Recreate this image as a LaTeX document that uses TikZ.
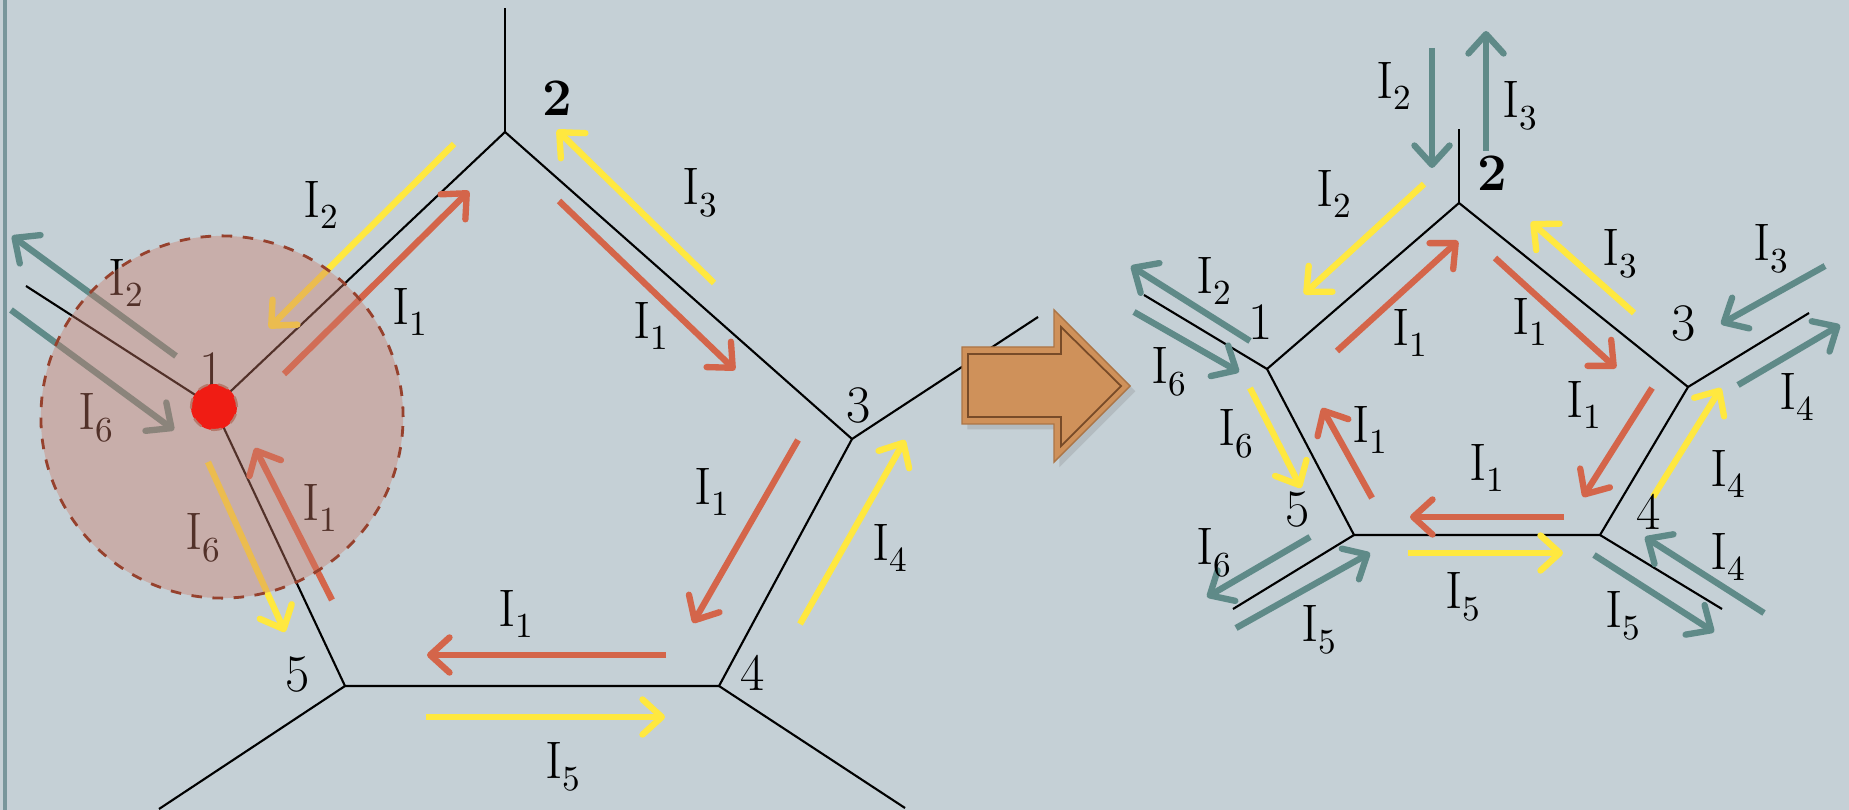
\documentclass[tikz,border=0pt]{standalone}
\usepackage{tikz}
\usetikzlibrary{arrows.meta, calc, shadows}

\definecolor{panelbg}{RGB}{197,208,214}
\definecolor{panelrule}{RGB}{120,150,155}
\definecolor{curred}{RGB}{212,101,74}
\definecolor{curyellow}{RGB}{255,232,63}
\definecolor{curteal}{RGB}{95,138,136}
\definecolor{zonefill}{RGB}{205,123,104}
\definecolor{zonedraw}{RGB}{150,65,45}
\definecolor{dotred}{RGB}{240,28,20}
\definecolor{arrowfill}{RGB}{207,145,90}
\definecolor{arrowdraw}{RGB}{120,75,40}
\newcommand{\curlbl}[1]{I\raisebox{-0.5ex}{\fontsize{10}{11}\selectfont #1}}

\begin{document}
\begin{tikzpicture}[
  x=0.01cm, y=-0.01cm,
  wire/.style={line width=0.6pt, black},
  current/.style={line width=1.8pt, -{Straight Barb[round, length=5.5pt, width=10pt]}},
  redcur/.style={current, curred},
  yelcur/.style={current, curyellow},
  tealcur/.style={current, curteal},
  lbl/.style={inner sep=0pt, font=\fontsize{15}{17}\selectfont},
  vnum/.style={inner sep=0pt, font=\fontsize{15}{17}\selectfont},
]

  % background
  \fill[panelbg] (0,0) rectangle (1849,810);
  \useasboundingbox (0,0) rectangle (1849,810);
  \draw[panelrule, line width=1pt] (5,0) -- (5,810);

  % ---------- left network ----------
  \coordinate (v1) at (214,407);
  \coordinate (v2) at (505,132);
  \coordinate (v3) at (852,439);
  \coordinate (v4) at (719,686);
  \coordinate (v5) at (345,686);
  \coordinate (s1) at (26,286);
  \coordinate (s2) at (505,8);
  \coordinate (s3) at (1038,317);
  \coordinate (s4) at (905,808);
  \coordinate (s5) at (159,809);

  \draw[wire] (v1) -- (v2) -- (v3) -- (v4) -- (v5) -- cycle;
  \foreach \i in {1,...,5} {
    \draw[wire] (v\i) -- (s\i);
  }

  % currents on the left
  \draw[redcur] (284,374) -- (469,191);
  \draw[redcur] (559,201) -- (735,370);
  \draw[redcur] (798,440) -- (693,623);
  \draw[redcur] (666,655) -- (427,655);
  \draw[redcur] (332,600) -- (255,448);
  \draw[yelcur] (454,144) -- (269,328);
  \draw[yelcur] (714,283) -- (557,130);
  \draw[yelcur] (800,624) -- (905,440);
  \draw[yelcur] (426,717) -- (665,717);
  \draw[yelcur] (208,462) -- (285,632);
  \draw[tealcur] (176,356) -- (12,236);
  \draw[tealcur] (11,310) -- (174,430);

  % labels on the left
  \node (n2) [vnum, font=\fontsize{15}{17}\selectfont\bfseries] at (557,98) {2};
  \node (n1) [vnum] at (212,370) {1};
  \node (n3) [vnum] at (859,405) {3};
  \node (n4) [vnum] at (753,673) {4};
  \node (n5) [vnum] at (298,675) {5};
  \node (la) [lbl] at (321,205) {\curlbl{2}};
  \node (lb) [lbl] at (410,312) {\curlbl{1}};
  \node (lc) [lbl] at (126,283) {\curlbl{2}};
  \node (ld) [lbl] at (96,418) {\curlbl{6}};
  \node (le) [lbl] at (203,538) {\curlbl{6}};
  \node (lf) [lbl] at (320,508) {\curlbl{1}};
  \node (lg) [lbl] at (700,193) {\curlbl{3}};
  \node (lh) [lbl] at (651,326) {\curlbl{1}};
  \node (li) [lbl] at (712,492) {\curlbl{1}};
  \node (lj) [lbl] at (890,548) {\curlbl{4}};
  \node (lk) [lbl] at (516,614) {\curlbl{1}};
  \node (ll) [lbl] at (563,767) {\curlbl{5}};

  % zone round node 1
  \node (zone) [circle, minimum size=3.62cm, fill=zonefill, fill opacity=0.4,
    draw=zonedraw, dashed, line width=0.8pt] at (222,417) {};
  \node (dot) [circle, minimum size=0.46cm, inner sep=0pt, fill=dotred,
    draw=zonedraw!70, dashed, line width=0.6pt] at (v1) {};

  % big arrow
  \draw[fill=arrowfill, draw=arrowdraw!40!arrowfill, line width=0.4pt,
    drop shadow={shadow xshift=1.5pt, shadow yshift=-1.5pt, opacity=0.25}]
    (962,347) -- (1054,347) -- (1054,310) -- (1130,386) -- (1054,462)
    -- (1054,424) -- (962,424) -- cycle;
  \draw[arrowdraw, line width=0.5pt]
    (968,354) -- (1061,354) -- (1061,327) -- (1121,386) -- (1061,446)
    -- (1061,417) -- (968,417) -- cycle;

  % ---------- right network ----------
  \coordinate (w1) at (1267,369);
  \coordinate (w2) at (1459,203);
  \coordinate (w3) at (1688,387);
  \coordinate (w4) at (1600,535);
  \coordinate (w5) at (1354,535);
  \coordinate (t1) at (1144,295);
  \coordinate (t2) at (1459,129);
  \coordinate (t3) at (1809,313);
  \coordinate (t4) at (1722,609);
  \coordinate (t5) at (1233,609);

  \draw[wire] (w1) -- (w2) -- (w3) -- (w4) -- (w5) -- cycle;
  \foreach \i in {1,...,5} {
    \draw[wire] (w\i) -- (t\i);
  }

  % currents inside the loop
  \draw[redcur] (1337,351) -- (1458,241);
  \draw[redcur] (1495,258) -- (1616,368);
  \draw[redcur] (1652,388) -- (1583,497);
  \draw[redcur] (1564,517) -- (1410,517);
  \draw[redcur] (1372,498) -- (1322,408);
  \draw[yelcur] (1424,184) -- (1304,294);
  \draw[yelcur] (1634,313) -- (1531,222);
  \draw[yelcur] (1653,497) -- (1721,388);
  \draw[yelcur] (1408,553) -- (1563,553);
  \draw[yelcur] (1250,388) -- (1301,488);

  % currents on the branches
  \draw[tealcur] (1432,48) -- (1432,168);
  \draw[tealcur] (1486,151) -- (1486,31);
  \draw[tealcur] (1250,341) -- (1131,266);
  \draw[tealcur] (1134,312) -- (1239,372);
  \draw[tealcur] (1825,266) -- (1721,324);
  \draw[tealcur] (1738,385) -- (1840,325);
  \draw[tealcur] (1764,613) -- (1645,537);
  \draw[tealcur] (1594,555) -- (1714,632);
  \draw[tealcur] (1310,537) -- (1207,597);
  \draw[tealcur] (1236,628) -- (1370,553);

  % labels on the right
  \node (m2) [vnum, font=\fontsize{15}{17}\selectfont\bfseries] at (1492,173) {2};
  \node (m1) [vnum] at (1261,322) {1};
  \node (m3) [vnum] at (1684,323) {3};
  \node (m4) [vnum] at (1649,512) {4};
  \node (m5) [vnum] at (1298,510) {5};
  \node (ra) [lbl] at (1394,86) {\curlbl{2}};
  \node (rb) [lbl] at (1520,106) {\curlbl{3}};
  \node (rc) [lbl] at (1334,194) {\curlbl{2}};
  \node (rd) [lbl] at (1214,281) {\curlbl{2}};
  \node (re) [lbl] at (1169,372) {\curlbl{6}};
  \node (rf) [lbl] at (1410,333) {\curlbl{1}};
  \node (rg) [lbl] at (1530,322) {\curlbl{1}};
  \node (rh) [lbl] at (1620,254) {\curlbl{3}};
  \node (ri) [lbl] at (1771,249) {\curlbl{3}};
  \node (rj) [lbl] at (1797,397) {\curlbl{4}};
  \node (rk) [lbl] at (1584,405) {\curlbl{1}};
  \node (rl) [lbl] at (1728,474) {\curlbl{4}};
  \node (rm) [lbl] at (1728,557) {\curlbl{4}};
  \node (rn) [lbl] at (1623,616) {\curlbl{5}};
  \node (ro) [lbl] at (1463,597) {\curlbl{5}};
  \node (rp) [lbl] at (1487,468) {\curlbl{1}};
  \node (rq) [lbl] at (1214,553) {\curlbl{6}};
  \node (rr) [lbl] at (1319,630) {\curlbl{5}};
  \node (rs) [lbl] at (1370,430) {\curlbl{1}};
  \node (rt) [lbl] at (1236,434) {\curlbl{6}};

\end{tikzpicture}
\end{document}
